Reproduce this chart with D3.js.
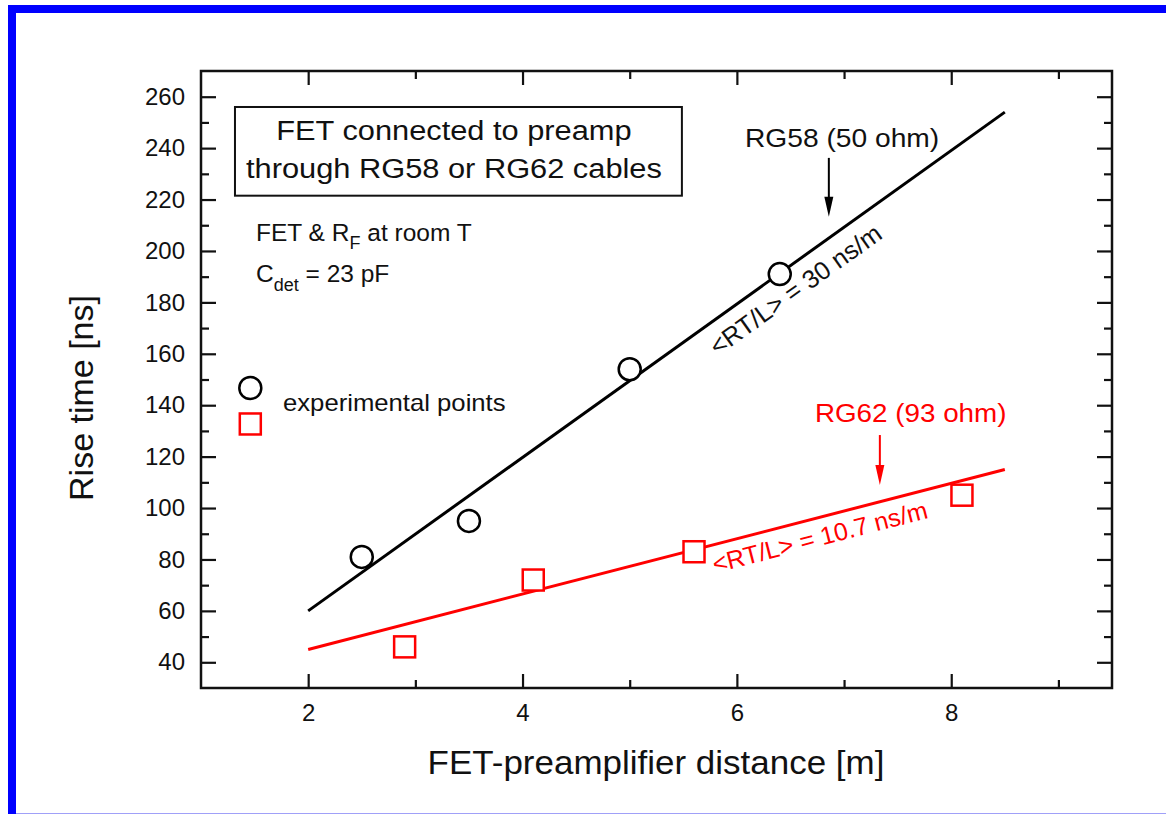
<!DOCTYPE html>
<html>
<head>
<meta charset="utf-8">
<script src="https://cdn.jsdelivr.net/npm/d3@7"></script>
<style>
  body { margin: 0; background: #fff; }
  svg text { font-family: "Liberation Sans", Arial, sans-serif; fill: #111; }
</style>
</head>
<body>
<div id="chart"></div>
<script>
// RG58 (black circles) and RG62 (red squares) measurements
const rg58_x = [2.5, 3.5, 5.0, 6.4]
const rg58_y = [81, 95, 154, 191]
const rg62_x = [2.9, 4.1, 5.6, 8.1]
const rg62_y = [46, 72, 83, 105]

// linear fits, two end points each
const fit58_x = [2, 8.5]
const fit58_y = [60, 254]
const fit62_x = [2, 8.5]
const fit62_y = [45, 115]

const x_major = [2, 4, 6, 8]
const x_minor = [3, 5, 7, 9]
const y_major = [40, 60, 80, 100, 120, 140, 160, 180, 200, 220, 240, 260]
const y_minor = [50, 70, 90, 110, 130, 150, 170, 190, 210, 230, 250]

const width = 1166, height = 814
const margin = {left: 201, top: 71, right: 1112, bottom: 688}

const svg = d3.select('#chart').append('svg')
    .attr('width', width)
    .attr('height', height)

// blue page border
svg.append('rect')
    .attr('x', 12).attr('y', 9)
    .attr('width', 1170).attr('height', 900)
    .attr('fill', 'none')
    .attr('stroke', '#0000ff')
    .attr('stroke-width', 8)
svg.append('line')
    .attr('x1', 16).attr('x2', width)
    .attr('y1', 813.5).attr('y2', 813.5)
    .attr('stroke', '#a0a0f8')
    .attr('stroke-width', 1)

// scales
const x = d3.scaleLinear().domain([1, 9.5]).range([margin.left, margin.right])
const y = d3.scaleLinear().domain([30, 270]).range([margin.bottom, margin.top])

// axes, ticks pointing inward
function styleAxis(g) {
    g.select('.domain').remove()
    g.selectAll('line').attr('stroke', '#111').attr('stroke-width', 2.2)
    g.selectAll('text').attr('font-size', 24).attr('fill', '#111')
}

svg.append('g')
    .attr('transform', `translate(0,${margin.bottom})`)
    .call(d3.axisBottom(x).tickValues(x_major).tickSize(-14).tickPadding(16).tickFormat(d3.format('d')))
    .call(styleAxis)
svg.append('g')
    .attr('transform', `translate(0,${margin.bottom})`)
    .call(d3.axisBottom(x).tickValues(x_minor).tickSize(-8).tickFormat(''))
    .call(styleAxis)
svg.append('g')
    .attr('transform', `translate(0,${margin.top})`)
    .call(d3.axisTop(x).tickValues(x_major).tickSize(-14).tickFormat(''))
    .call(styleAxis)
svg.append('g')
    .attr('transform', `translate(0,${margin.top})`)
    .call(d3.axisTop(x).tickValues(x_minor).tickSize(-8).tickFormat(''))
    .call(styleAxis)

svg.append('g')
    .attr('transform', `translate(${margin.left},0)`)
    .call(d3.axisLeft(y).tickValues(y_major).tickSize(-15).tickPadding(16))
    .call(styleAxis)
svg.append('g')
    .attr('transform', `translate(${margin.left},0)`)
    .call(d3.axisLeft(y).tickValues(y_minor).tickSize(-8).tickFormat(''))
    .call(styleAxis)
svg.append('g')
    .attr('transform', `translate(${margin.right},0)`)
    .call(d3.axisRight(y).tickValues(y_major).tickSize(-15).tickFormat(''))
    .call(styleAxis)
svg.append('g')
    .attr('transform', `translate(${margin.right},0)`)
    .call(d3.axisRight(y).tickValues(y_minor).tickSize(-8).tickFormat(''))
    .call(styleAxis)

// frame
svg.append('rect')
    .attr('x', margin.left).attr('y', margin.top)
    .attr('width', margin.right - margin.left)
    .attr('height', margin.bottom - margin.top)
    .attr('fill', 'none')
    .attr('stroke', '#111')
    .attr('stroke-width', 2.5)

// the original is slightly stretched sideways, so text gets an x scale
function label(xv, yv, str, size, sx, anchor, color) {
    return svg.append('text')
        .attr('transform', `translate(${x(xv)},${y(yv)}) scale(${sx},1)`)
        .attr('text-anchor', anchor || 'start')
        .attr('font-size', size)
        .style('fill', color || '#111')
        .text(str)
}

// axis titles
svg.append('text')
    .attr('transform', `translate(93,398) rotate(-90)`)
    .attr('text-anchor', 'middle')
    .attr('font-size', 34)
    .text('Rise time [ns]')
svg.append('text')
    .attr('transform', `translate(656,774) scale(1.06,1)`)
    .attr('text-anchor', 'middle')
    .attr('font-size', 33)
    .text('FET-preamplifier distance [m]')

// fit lines
const line = d3.line().x(d => x(d[0])).y(d => y(d[1]))
svg.append('path')
    .datum(d3.zip(fit58_x, fit58_y))
    .attr('d', line)
    .attr('fill', 'none').attr('stroke', '#000').attr('stroke-width', 3)
svg.append('path')
    .datum(d3.zip(fit62_x, fit62_y))
    .attr('d', line)
    .attr('fill', 'none').attr('stroke', '#ff0000').attr('stroke-width', 3)

// points
const sq = 21
svg.append('g').selectAll('circle')
    .data(d3.zip(rg58_x, rg58_y))
    .join('circle')
    .attr('cx', d => x(d[0]))
    .attr('cy', d => y(d[1]))
    .attr('r', 11)
    .attr('fill', '#fff').attr('stroke', '#000').attr('stroke-width', 2.5)
svg.append('g').selectAll('rect')
    .data(d3.zip(rg62_x, rg62_y))
    .join('rect')
    .attr('x', d => x(d[0]) - sq / 2)
    .attr('y', d => y(d[1]) - sq / 2)
    .attr('width', sq).attr('height', sq)
    .attr('fill', '#fff').attr('stroke', '#ff0000').attr('stroke-width', 2.5)

// text box
svg.append('rect')
    .attr('x', x(1.317)).attr('y', y(256))
    .attr('width', x(5.487) - x(1.317))
    .attr('height', y(221.5) - y(256))
    .attr('fill', 'none').attr('stroke', '#111').attr('stroke-width', 2)
label(3.36, 243.2, 'FET connected to preamp', 28, 1.1, 'middle')
label(3.36, 228.4, 'through RG58 or RG62 cables', 28, 1.1, 'middle')

// conditions
let t1 = label(1.513, 204, '', 24.5, 1.0)
t1.append('tspan').text('FET & R')
t1.append('tspan').attr('font-size', 18).attr('dy', 8).text('F')
t1.append('tspan').attr('dy', -8).text(' at room T')
let t2 = label(1.513, 188, '', 24.5, 1.0)
t2.append('tspan').text('C')
t2.append('tspan').attr('font-size', 18).attr('dy', 9).text('det')
t2.append('tspan').attr('dy', -9).text(' = 23 pF')

// legend
svg.append('circle')
    .attr('cx', x(1.46)).attr('cy', y(146.7)).attr('r', 11)
    .attr('fill', 'none').attr('stroke', '#000').attr('stroke-width', 2.5)
svg.append('rect')
    .attr('x', x(1.46) - sq / 2).attr('y', y(132.7) - sq / 2)
    .attr('width', sq).attr('height', sq)
    .attr('fill', 'none').attr('stroke', '#ff0000').attr('stroke-width', 2.5)
label(1.765, 137.9, 'experimental points', 24, 1.07)

// annotations
function arrow(xv, y0, y1, color) {
    svg.append('line')
        .attr('x1', x(xv)).attr('x2', x(xv))
        .attr('y1', y(y0)).attr('y2', y(y1) - 18)
        .attr('stroke', color).attr('stroke-width', 2)
    svg.append('path')
        .attr('d', `M${x(xv) - 4.5},${y(y1) - 20} L${x(xv) + 4.5},${y(y1) - 20} L${x(xv)},${y(y1)} Z`)
        .attr('fill', color)
}
function angleOf(xs, ys) {
    return Math.atan2(y(ys[1]) - y(ys[0]), x(xs[1]) - x(xs[0])) * 180 / Math.PI
}

label(6.075, 240.6, 'RG58 (50 ohm)', 26, 1.085)
arrow(6.858, 236.2, 213.3, '#000')
svg.append('text')
    .attr('transform', `translate(${x(5.82)},${y(159)}) rotate(${angleOf(fit58_x, fit58_y)})`)
    .attr('font-size', 25.5)
    .text('<RT/L> = 30 ns/m')

label(6.728, 133.6, 'RG62 (93 ohm)', 26, 1.07, 'start', '#ff0000')
arrow(7.334, 128.4, 109, '#ff0000')
svg.append('text')
    .attr('transform', `translate(${x(5.795)},${y(74.7)}) rotate(${angleOf(fit62_x, fit62_y)})`)
    .attr('font-size', 25)
    .style('fill', '#ff0000')
    .text('<RT/L> = 10.7 ns/m')
</script>
</body>
</html>
